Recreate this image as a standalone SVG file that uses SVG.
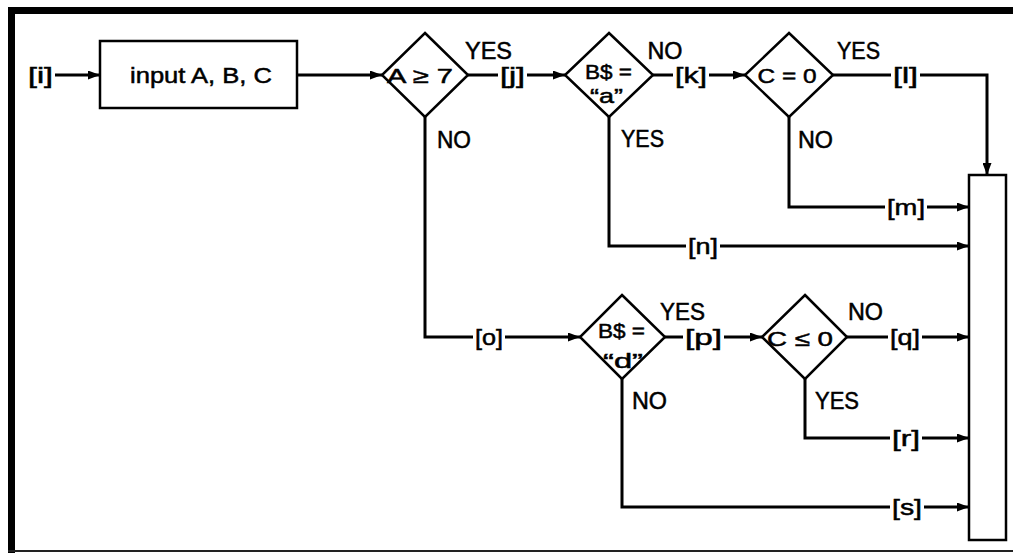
<svg xmlns="http://www.w3.org/2000/svg" width="1013" height="554" viewBox="0 0 1013 554">
<style>
.ln{fill:none;stroke:#000;stroke-width:3}
.shp{fill:#fff;stroke:#000;stroke-width:2.5}
.t{font-family:"Liberation Sans",Arial,sans-serif;fill:#000;stroke:#000;stroke-width:0.5;text-anchor:middle}
.yn{font-size:23px}
.lb{font-size:22px}
.dt{font-size:21px}
</style>
<defs>
<marker id="ah" markerUnits="userSpaceOnUse" markerWidth="12" markerHeight="9" refX="12" refY="4.5" orient="auto">
<path d="M0,0 L12,4.5 L0,9 z" fill="#000"/>
</marker>
</defs>
<rect width="1013" height="554" fill="#fff"/>
<g id="frame">
<rect x="8" y="7" width="7" height="546" fill="#000"/>
<rect x="8" y="7" width="1005" height="7" fill="#000"/>
<rect x="8" y="550" width="1005" height="2" fill="#222"/>
</g>
<g id="connectors">
<path class="ln" d="M55,75 H100" marker-end="url(#ah)"/>
<path class="ln" d="M297,75 H382" marker-end="url(#ah)"/>
<path class="ln" d="M468,75 H498"/>
<path class="ln" d="M527,75 H565" marker-end="url(#ah)"/>
<path class="ln" d="M653,75 H673"/>
<path class="ln" d="M709,75 H745" marker-end="url(#ah)"/>
<path class="ln" d="M833,75 H891"/>
<path class="ln" d="M920,75 H987 V175" marker-end="url(#ah)"/>
<path class="ln" d="M789,117 V207 H885"/>
<path class="ln" d="M927,207 H969" marker-end="url(#ah)"/>
<path class="ln" d="M609,117 V246 H686"/>
<path class="ln" d="M720,246 H969" marker-end="url(#ah)"/>
<path class="ln" d="M425,117 V337 H473"/>
<path class="ln" d="M505,337 H580" marker-end="url(#ah)"/>
<path class="ln" d="M665,337 H683"/>
<path class="ln" d="M724,337 H762" marker-end="url(#ah)"/>
<path class="ln" d="M847,337 H888"/>
<path class="ln" d="M922,337 H969" marker-end="url(#ah)"/>
<path class="ln" d="M805,379 V438 H890"/>
<path class="ln" d="M922,438 H969" marker-end="url(#ah)"/>
<path class="ln" d="M622,379 V507 H890"/>
<path class="ln" d="M924,507 H969" marker-end="url(#ah)"/>
</g>
<g id="labels">
<text class="t lb" x="40.5" y="83" textLength="25" lengthAdjust="spacingAndGlyphs">[i]</text>
<text class="t lb" x="512.5" y="83" textLength="25" lengthAdjust="spacingAndGlyphs">[j]</text>
<text class="t lb" x="691" y="83" textLength="32" lengthAdjust="spacingAndGlyphs">[k]</text>
<text class="t lb" x="905.5" y="83" textLength="25" lengthAdjust="spacingAndGlyphs">[l]</text>
<text class="t lb" x="906" y="215" textLength="38" lengthAdjust="spacingAndGlyphs">[m]</text>
<text class="t lb" x="703" y="254" textLength="30" lengthAdjust="spacingAndGlyphs">[n]</text>
<text class="t lb" x="489" y="345" textLength="28" lengthAdjust="spacingAndGlyphs">[o]</text>
<text class="t lb" x="703.5" y="345" textLength="37" lengthAdjust="spacingAndGlyphs">[p]</text>
<text class="t lb" x="905" y="345" textLength="30" lengthAdjust="spacingAndGlyphs">[q]</text>
<text class="t lb" x="906" y="446" textLength="28" lengthAdjust="spacingAndGlyphs">[r]</text>
<text class="t lb" x="907" y="515" textLength="30" lengthAdjust="spacingAndGlyphs">[s]</text>
<text class="t yn" x="488.5" y="59" textLength="47" lengthAdjust="spacingAndGlyphs">YES</text>
<text class="t yn" x="454" y="148" textLength="34" lengthAdjust="spacingAndGlyphs">NO</text>
<text class="t yn" x="665" y="59" textLength="35" lengthAdjust="spacingAndGlyphs">NO</text>
<text class="t yn" x="642.5" y="147" textLength="43" lengthAdjust="spacingAndGlyphs">YES</text>
<text class="t yn" x="858.5" y="59" textLength="43" lengthAdjust="spacingAndGlyphs">YES</text>
<text class="t yn" x="815.5" y="148" textLength="35" lengthAdjust="spacingAndGlyphs">NO</text>
<text class="t yn" x="682.5" y="320" textLength="45" lengthAdjust="spacingAndGlyphs">YES</text>
<text class="t yn" x="865.5" y="320" textLength="35" lengthAdjust="spacingAndGlyphs">NO</text>
<text class="t yn" x="649.5" y="409" textLength="35" lengthAdjust="spacingAndGlyphs">NO</text>
<text class="t yn" x="837" y="409" textLength="44" lengthAdjust="spacingAndGlyphs">YES</text>
</g>
<g id="node-input">
<rect class="shp" x="100" y="41" width="197" height="67"/>
<text class="t" style="font-size:22px" x="201" y="83" textLength="142" lengthAdjust="spacingAndGlyphs">input A, B, C</text>
</g>
<g id="node-a-ge-7">
<path class="shp" d="M425,33 L468,75 L425,117 L382,75 Z"/>
<text class="t dt" x="420" y="83" textLength="66" lengthAdjust="spacingAndGlyphs">A ≥ 7</text>
</g>
<g id="node-b-eq-a">
<path class="shp" d="M609,33 L653,75 L609,117 L565,75 Z"/>
<text class="t dt" x="608.5" y="79" textLength="47" lengthAdjust="spacingAndGlyphs">B$ =</text>
<text class="t dt" x="606.5" y="103" textLength="33" lengthAdjust="spacingAndGlyphs">“a”</text>
</g>
<g id="node-c-eq-0">
<path class="shp" d="M789,33 L833,75 L789,117 L745,75 Z"/>
<text class="t dt" x="787" y="83" textLength="59" lengthAdjust="spacingAndGlyphs">C = 0</text>
</g>
<g id="node-b-eq-d">
<path class="shp" d="M622,295 L665,337 L622,379 L580,337 Z"/>
<text class="t dt" x="621.5" y="338" textLength="47" lengthAdjust="spacingAndGlyphs">B$ =</text>
<text class="t dt" x="623" y="368" textLength="40" lengthAdjust="spacingAndGlyphs">“d”</text>
</g>
<g id="node-c-le-0">
<path class="shp" d="M805,295 L847,337 L805,379 L762,337 Z"/>
<text class="t dt" x="800" y="346" textLength="66" lengthAdjust="spacingAndGlyphs">C ≤ 0</text>
</g>
<g id="node-end">
<rect class="shp" x="969" y="175" width="37" height="365"/>
</g>
</svg>
